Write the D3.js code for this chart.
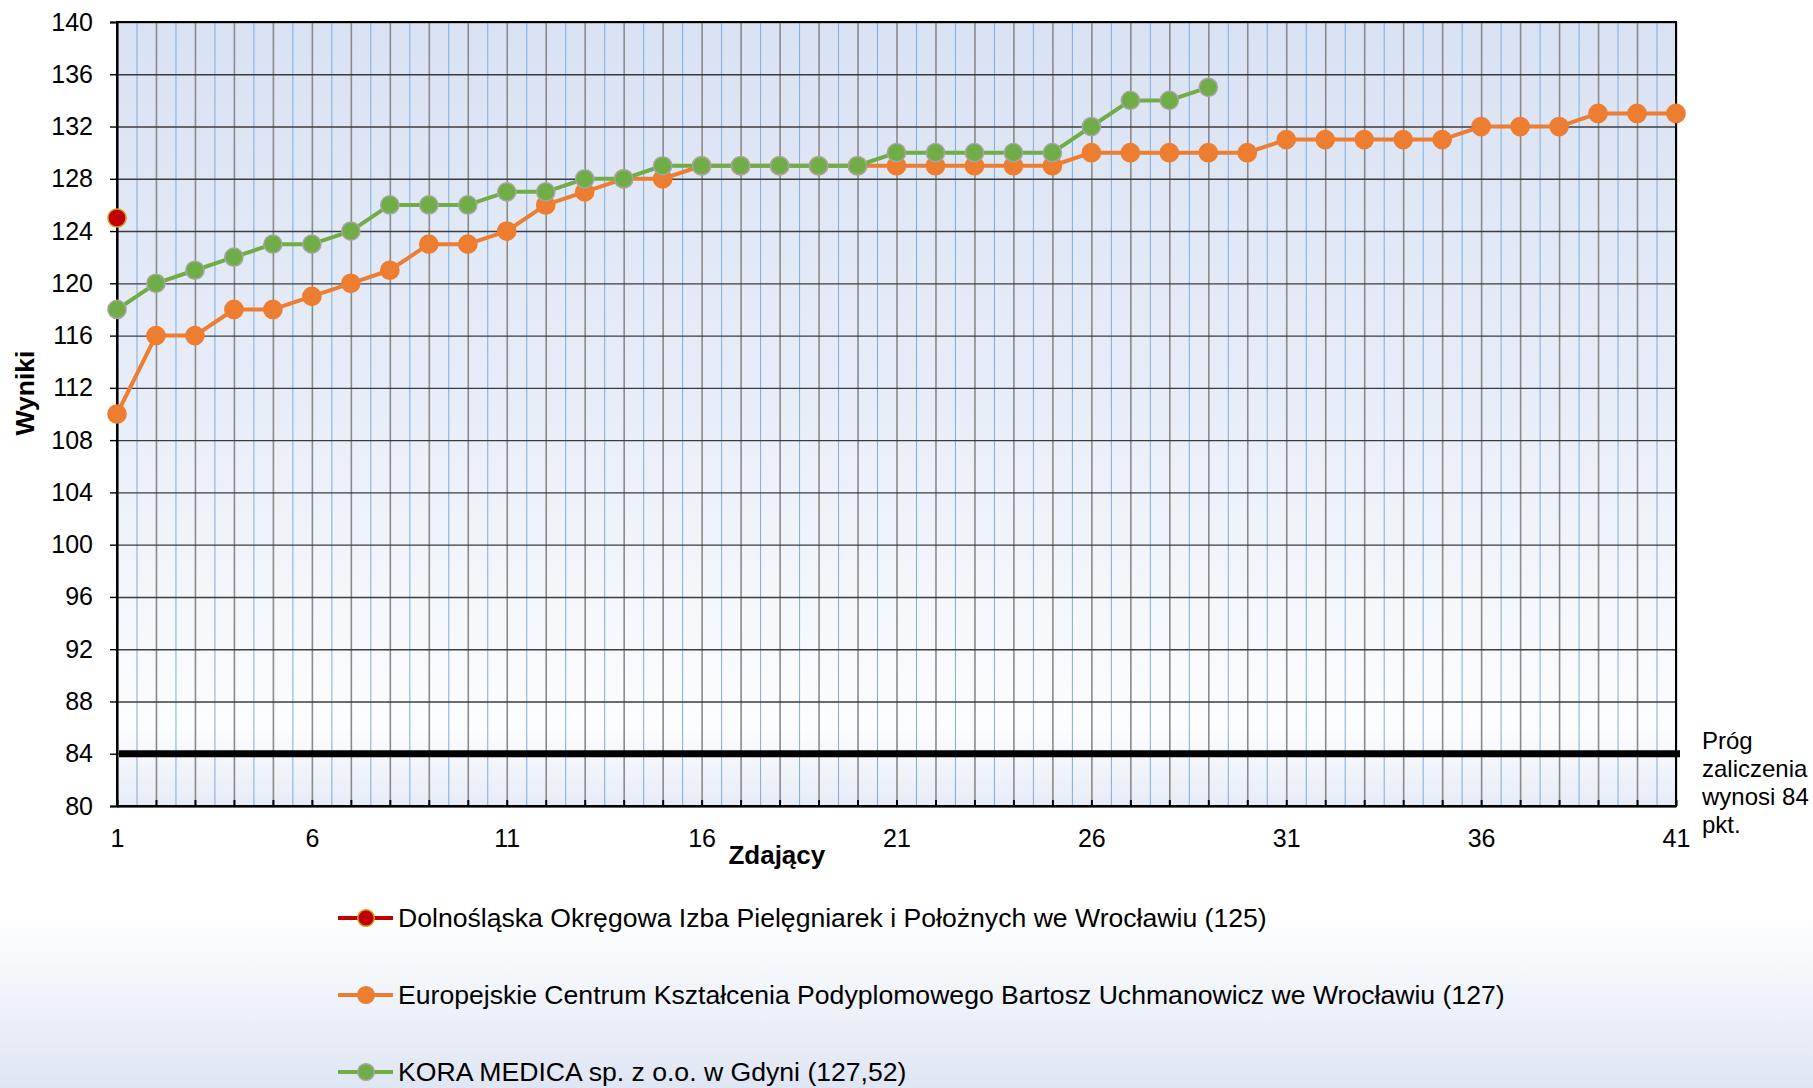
<!DOCTYPE html>
<html>
<head>
<meta charset="utf-8">
<script src="https://cdn.jsdelivr.net/npm/d3@7"></script>
<style>
  html, body { margin: 0; padding: 0; background: #fff; }
  svg { display: block; font-family: "Liberation Sans", Arial, sans-serif; }
  .grid .domain { display: none; }
  .axis text { fill: #000; }
</style>
</head>
<body>
<div id="container"></div>
<script>
// data
const candidates = d3.range(1, 42);           // Zdający 1..41
const xLabelTicks = [1, 6, 11, 16, 21, 26, 31, 36, 41];
const yTicks = d3.range(80, 141, 4);

const seriesNames = [
  'Dolnośląska Okręgowa Izba Pielęgniarek i Położnych we Wrocławiu (125)',
  'Europejskie Centrum Kształcenia Podyplomowego Bartosz Uchmanowicz we Wrocławiu (127)',
  'KORA MEDICA sp. z o.o. w Gdyni (127,52)'
];
const dolnoslaska = [125];
const europejskie = [110, 116, 116, 118, 118, 119, 120, 121, 123, 123,
                     124, 126, 127, 128, 128, 129, 129, 129, 129, 129,
                     129, 129, 129, 129, 129, 130, 130, 130, 130, 130,
                     131, 131, 131, 131, 131, 132, 132, 132, 133, 133, 133];
const koraMedica = [118, 120, 121, 122, 123, 123, 124, 126, 126, 126,
                    127, 127, 128, 128, 129, 129, 129, 129, 129, 129,
                    130, 130, 130, 130, 130, 132, 134, 134, 135];
const threshold = 84;
const thresholdLabel = ['Próg', 'zaliczenia', 'wynosi 84', 'pkt.'];

const W = 1813, H = 1088;
const margin = { top: 22, right: 137, bottom: 282, left: 117 };
const width = W - margin.left - margin.right;
const height = H - margin.top - margin.bottom;

const svg = d3.select('#container')
  .append('svg')
  .attr('width', W)
  .attr('height', H);

const defs = svg.append('defs');

const pageGrad = defs.append('linearGradient')
  .attr('id', 'pageGrad').attr('x1', 0).attr('y1', 0).attr('x2', 0).attr('y2', 1);
pageGrad.append('stop').attr('offset', '0').attr('stop-color', '#ffffff');
pageGrad.append('stop').attr('offset', '0.84').attr('stop-color', '#ffffff');
pageGrad.append('stop').attr('offset', '1').attr('stop-color', '#dfe6f3');

const plotGrad = defs.append('linearGradient')
  .attr('id', 'plotGrad').attr('x1', 0).attr('y1', 0).attr('x2', 0).attr('y2', 1);
plotGrad.append('stop').attr('offset', '0').attr('stop-color', '#d9e2f3');
plotGrad.append('stop').attr('offset', '0.5').attr('stop-color', '#e8eef8');
plotGrad.append('stop').attr('offset', '0.9').attr('stop-color', '#fcfdfe');
plotGrad.append('stop').attr('offset', '1').attr('stop-color', '#e6ecf7');

const minorGrad = defs.append('linearGradient')
  .attr('id', 'minorGrad')
  .attr('gradientUnits', 'userSpaceOnUse')
  .attr('x1', 0).attr('y1', 0).attr('x2', 0).attr('y2', height);
minorGrad.append('stop').attr('offset', '0').attr('stop-color', '#7aace0');
minorGrad.append('stop').attr('offset', '0.6').attr('stop-color', '#b3cfee');
minorGrad.append('stop').attr('offset', '1').attr('stop-color', '#e3eef9');

svg.append('rect')
  .attr('width', W).attr('height', H)
  .attr('fill', 'url(#pageGrad)');

const g = svg.append('g')
  .attr('transform', 'translate(' + margin.left + ', ' + margin.top + ')');

const x = d3.scaleLinear().domain([1, 41]).range([0, width]);
const y = d3.scaleLinear().domain([80, 140]).range([height, 0]);

g.append('rect')
  .attr('width', width).attr('height', height)
  .attr('fill', 'url(#plotGrad)');

// minor vertical grid (half steps)
g.append('g')
  .attr('class', 'grid')
  .attr('transform', `translate(0, ${height})`)
  .call(d3.axisBottom(x).tickValues(d3.range(1.5, 41, 1)).tickSize(-height).tickFormat(''))
  .selectAll('line')
  .attr('stroke', 'url(#minorGrad)')
  .attr('stroke-width', 1);

// major vertical grid
g.append('g')
  .attr('class', 'grid')
  .attr('transform', `translate(0, ${height})`)
  .call(d3.axisBottom(x).tickValues(candidates).tickSize(-height).tickFormat(''))
  .selectAll('line')
  .attr('stroke', '#8a8a8a')
  .attr('stroke-width', 1.6);

// horizontal grid
g.append('g')
  .attr('class', 'grid')
  .call(d3.axisLeft(y).tickValues(yTicks).tickSize(-width).tickFormat(''))
  .selectAll('line')
  .attr('stroke', '#3c3c3c')
  .attr('stroke-width', 1.4);

// small inner ticks on the bottom axis
g.append('g')
  .attr('class', 'grid')
  .attr('transform', `translate(0, ${height})`)
  .call(d3.axisBottom(x).tickValues(candidates).tickSize(-6).tickFormat(''))
  .selectAll('line')
  .attr('stroke', '#000')
  .attr('stroke-width', 2);

// frame
g.append('rect')
  .attr('width', width).attr('height', height)
  .attr('fill', 'none')
  .attr('stroke', '#000')
  .attr('stroke-width', 2);

// y axis
const yAxis = g.append('g')
  .attr('class', 'axis')
  .call(d3.axisLeft(y).tickValues(yTicks).tickSize(7).tickPadding(17));
yAxis.select('.domain').attr('stroke', '#000').attr('stroke-width', 2);
yAxis.selectAll('line').attr('stroke', '#000').attr('stroke-width', 1.4);
yAxis.selectAll('text')
  .style('font-size', '25px')
  .style('font-family', '"Liberation Sans", Arial, sans-serif');

// x axis labels
const xAxis = g.append('g')
  .attr('class', 'axis')
  .attr('transform', `translate(0, ${height})`)
  .call(d3.axisBottom(x).tickValues(xLabelTicks).tickSize(0).tickPadding(23));
xAxis.select('.domain').attr('stroke', '#000').attr('stroke-width', 2);
xAxis.selectAll('text')
  .style('font-size', '25px')
  .style('font-family', '"Liberation Sans", Arial, sans-serif');

// threshold line
g.append('line')
  .attr('x1', x(1) + 2).attr('x2', width + 4)
  .attr('y1', y(threshold)).attr('y2', y(threshold))
  .attr('stroke', '#000')
  .attr('stroke-width', 7);

g.append('text')
  .attr('x', width + 26)
  .attr('y', y(threshold) - 5)
  .style('font-size', '24px')
  .selectAll('tspan')
  .data(thresholdLabel)
  .enter()
  .append('tspan')
  .attr('x', width + 26)
  .attr('dy', (d, i) => i === 0 ? 0 : 28)
  .text(d => d);

// series
const series = [
  { name: seriesNames[1], values: europejskie, color: '#ed7d31', stroke: '#ed7d31' },
  { name: seriesNames[2], values: koraMedica, color: '#70ad47', stroke: '#a5a5a5' },
  { name: seriesNames[0], values: dolnoslaska, color: '#c00000', stroke: '#d4a017' }
];

const line = d3.line()
  .x((d, i) => x(candidates[i]))
  .y(d => y(d));

series.forEach(s => {
  g.append('path')
    .datum(s.values)
    .attr('fill', 'none')
    .attr('stroke', s.color)
    .attr('stroke-width', 4)
    .attr('stroke-linejoin', 'round')
    .attr('d', line);

  g.selectAll(null)
    .data(s.values)
    .enter()
    .append('circle')
    .attr('cx', (d, i) => x(candidates[i]))
    .attr('cy', d => y(d))
    .attr('r', 9.1)
    .attr('fill', s.color)
    .attr('stroke', s.stroke)
    .attr('stroke-width', 1.5);
});

// axis titles
svg.append('text')
  .attr('x', margin.left + x(17.93))
  .attr('y', 864)
  .attr('text-anchor', 'middle')
  .style('font-size', '26px')
  .style('font-weight', 'bold')
  .text('Zdający');

svg.append('text')
  .attr('transform', 'translate(34, 393) rotate(-90)')
  .attr('text-anchor', 'middle')
  .style('font-size', '26.5px')
  .style('font-weight', 'bold')
  .text('Wyniki');

// legend
const legendItems = [
  { name: seriesNames[0], color: '#c00000', stroke: '#d4a017' },
  { name: seriesNames[1], color: '#ed7d31', stroke: '#ed7d31' },
  { name: seriesNames[2], color: '#70ad47', stroke: '#a5a5a5' }
];

const legend = svg.append('g')
  .attr('transform', 'translate(338, 918)');

const item = legend.selectAll('g')
  .data(legendItems)
  .enter()
  .append('g')
  .attr('transform', (d, i) => `translate(0, ${i * 77})`);

item.append('line')
  .attr('x1', 0).attr('x2', 55)
  .attr('stroke', d => d.color)
  .attr('stroke-width', 4);

item.append('circle')
  .attr('cx', 28)
  .attr('r', 8.3)
  .attr('fill', d => d.color)
  .attr('stroke', d => d.stroke)
  .attr('stroke-width', 1.5);

item.append('text')
  .attr('x', 60)
  .attr('dy', '0.35em')
  .style('font-size', '26.6px')
  .text(d => d.name);
</script>
</body>
</html>
